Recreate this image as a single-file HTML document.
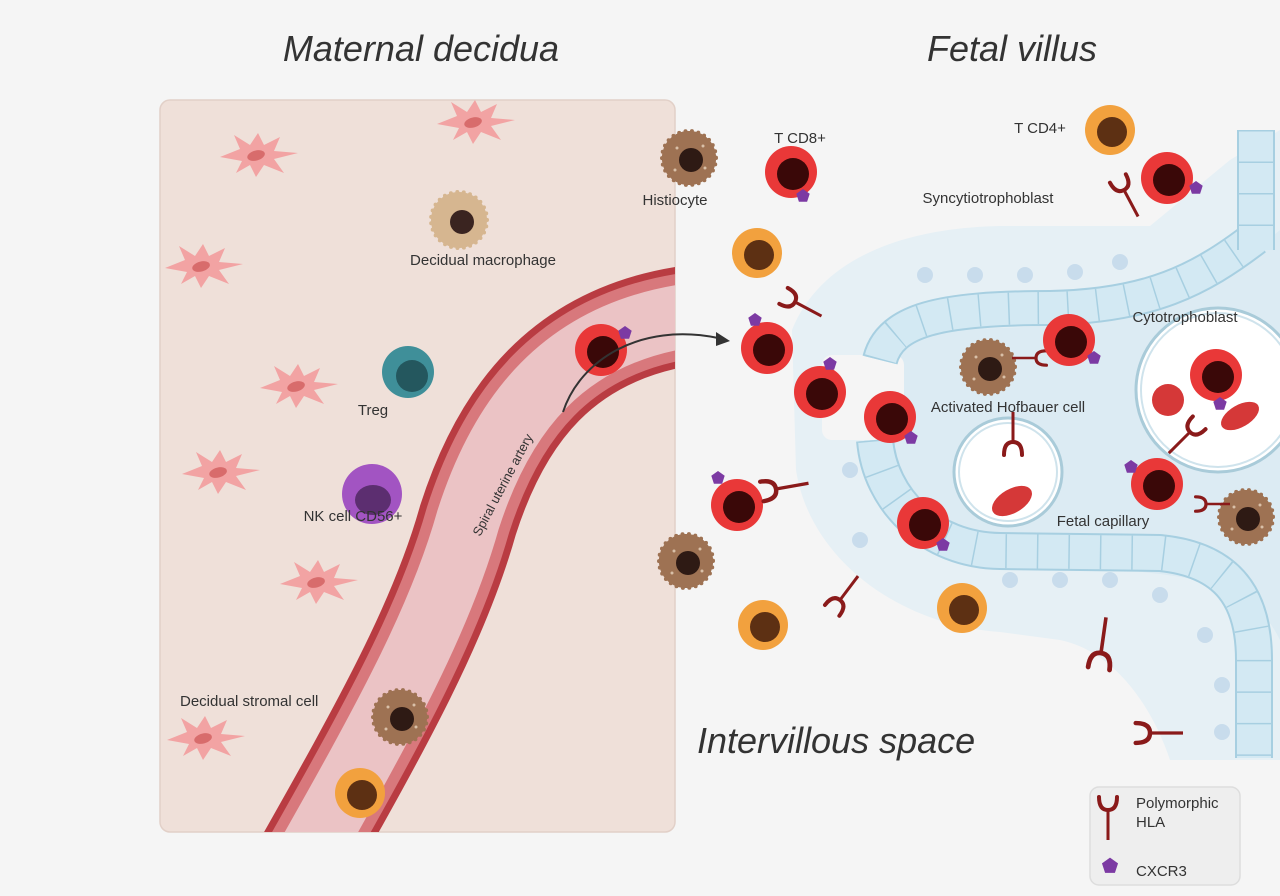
<!DOCTYPE html>
<html><head><meta charset="utf-8"><style>
html,body{margin:0;padding:0;background:#f5f5f5;}
svg{display:block;}
text{font-family:"Liberation Sans",Arial,sans-serif;fill:#333;}
.lb{font-size:15px;}
.tt{font-size:36px;font-style:italic;fill:#333;}
</style></head><body>
<svg width="1280" height="896" viewBox="0 0 1280 896" xmlns="http://www.w3.org/2000/svg">
<defs>
<clipPath id="box"><rect x="160" y="100" width="515" height="732" rx="10"/></clipPath>
<g id="star">
<polygon points="-38,2 -18,-6 -24,-20 -8,-10 0,-22 6,-10 22,-18 16,-4 40,-2 16,4 26,18 6,10 -2,22 -8,10 -22,18 -16,6" fill="#f2a3a3"/>
<ellipse cx="-2" cy="0" rx="9" ry="5" fill="#d86c6c" transform="rotate(-15)"/>
</g>
<g id="hla"><path d="M-9,-13 Q-9,0 0,0 Q9,0 9,-13" fill="none" stroke="#8a1a1a" stroke-width="4" stroke-linecap="round"/><line x1="0" y1="0" x2="0" y2="30" stroke="#8a1a1a" stroke-width="3"/></g>
<g id="tc"><circle r="26" fill="#e93838"/><circle cx="2" cy="2" r="16" fill="#3a0808"/></g>
<g id="oc"><circle r="25" fill="#f2a13e"/><circle cx="2" cy="2" r="15" fill="#5d3013"/></g>
<g id="mac"><circle r="27" fill="#9e7253" stroke="#9e7253" stroke-width="4" stroke-dasharray="0 6.5" stroke-linecap="round"/><circle r="27" fill="#9e7253"/><circle cx="-12" cy="-10" r="1.5" fill="#d9c0a8"/><circle cx="14" cy="-12" r="1.5" fill="#d9c0a8"/><circle cx="16" cy="10" r="1.5" fill="#d9c0a8"/><circle cx="-14" cy="12" r="1.5" fill="#d9c0a8"/><circle cx="2" cy="2" r="12" fill="#2e1a14"/></g>
<g id="pent"><polygon points="0,-7 6.7,-2.2 4.1,5.7 -4.1,5.7 -6.7,-2.2" fill="#7c3aa3"/></g>
</defs>

<text class="tt" x="421" y="61" text-anchor="middle">Maternal decidua</text>
<text class="tt" x="1012" y="61" text-anchor="middle">Fetal villus</text>

<!-- decidua box -->
<rect x="160" y="100" width="515" height="732" rx="10" fill="#efe0d9" stroke="#e2d0c8" stroke-width="1.5"/>
<g clip-path="url(#box)">
<path d="M300 870 C 385 720, 440 620, 468 520 C 500 420, 560 330, 700 314" fill="none" stroke="#b93c42" stroke-width="100"/>
<path d="M300 870 C 385 720, 440 620, 468 520 C 500 420, 560 330, 700 314" fill="none" stroke="#d8787c" stroke-width="86"/>
<path d="M300 870 C 385 720, 440 620, 468 520 C 500 420, 560 330, 700 314" fill="none" stroke="#ebc3c5" stroke-width="64"/>
</g>

<use href="#star" x="258" y="155"/>
<use href="#star" x="475" y="122"/>
<use href="#star" x="203" y="266"/>
<use href="#star" x="298" y="386"/>
<use href="#star" x="220" y="472"/>
<use href="#star" x="318" y="582"/>
<use href="#star" x="205" y="738"/>

<g transform="translate(459,220)"><circle r="28" fill="#d6b690" stroke="#d6b690" stroke-width="4" stroke-dasharray="0 6.5" stroke-linecap="round"/><circle cx="3" cy="2" r="12" fill="#3a2420"/></g>
<text class="lb" x="483" y="265" text-anchor="middle">Decidual macrophage</text>
<circle cx="408" cy="372" r="26" fill="#3f8f99"/><circle cx="412" cy="376" r="16" fill="#24575e"/>
<text class="lb" x="373" y="415" text-anchor="middle">Treg</text>
<circle cx="372" cy="494" r="30" fill="#a254c2"/><ellipse cx="373" cy="500" rx="18" ry="15" fill="#5c2e70"/>
<text class="lb" x="353" y="521" text-anchor="middle">NK cell CD56+</text>
<text class="lb" x="180" y="706">Decidual stromal cell</text>
<text class="lb" x="0" y="0" transform="translate(480,537) rotate(-62)" style="font-size:13px">Spiral uterine artery</text>
<use href="#mac" x="400" y="717"/>
<use href="#oc" x="360" y="793"/>
<use href="#tc" x="601" y="350"/><use href="#pent" x="625" y="333"/>

<!-- villus -->
<path d="M792 330 C 820 260, 900 228, 1000 226 L 1150 226 L 1230 160 L 1280 130 L 1280 760 L 1170 760 C 1150 700, 1110 650, 1060 640 L 1000 632 C 900 625, 810 560, 796 470 Z" fill="#e6f0f5"/>
<path d="M870 345 C 900 330, 950 330, 1050 326 C 1150 320, 1220 280, 1280 230 L 1280 640 C 1250 580, 1200 570, 1000 565 C 940 560, 880 500, 870 440 Z" fill="#dcebf3"/>
<rect x="822" y="355" width="82" height="85" rx="10" fill="#f5f5f5"/>
<g fill="none" stroke-linejoin="round">
<path d="M880 360 C 890 320, 940 308, 1050 308 C 1150 306, 1200 280, 1255 238" stroke="#a7cfe1" stroke-width="36"/>
<path d="M880 360 C 890 320, 940 308, 1050 308 C 1150 306, 1200 280, 1255 238" stroke="#d3e9f3" stroke-width="32"/>
<path d="M880 360 C 890 320, 940 308, 1050 308 C 1150 306, 1200 280, 1255 238" stroke="#a7cfe1" stroke-width="32" stroke-dasharray="1.5 28"/>
<path d="M875 440 C 880 500, 930 550, 1000 551 L 1160 553 C 1230 560, 1254 600, 1254 660 L 1254 758" stroke="#a7cfe1" stroke-width="38"/>
<path d="M875 440 C 880 500, 930 550, 1000 551 L 1160 553 C 1230 560, 1254 600, 1254 660 L 1254 758" stroke="#d3e9f3" stroke-width="34"/>
<path d="M875 440 C 880 500, 930 550, 1000 551 L 1160 553 C 1230 560, 1254 600, 1254 660 L 1254 758" stroke="#a7cfe1" stroke-width="34" stroke-dasharray="1.5 30"/>
<path d="M1256 130 L 1256 250" stroke="#a7cfe1" stroke-width="38"/>
<path d="M1256 130 L 1256 250" stroke="#d3e9f3" stroke-width="34"/>
<path d="M1256 130 L 1256 250" stroke="#a7cfe1" stroke-width="34" stroke-dasharray="1.5 30"/>
</g>
<g fill="#c8dcec">
<circle cx="925" cy="275" r="8"/><circle cx="975" cy="275" r="8"/><circle cx="1025" cy="275" r="8"/><circle cx="1075" cy="272" r="8"/><circle cx="1120" cy="262" r="8"/>
<circle cx="850" cy="470" r="8"/><circle cx="860" cy="540" r="8"/><circle cx="1010" cy="580" r="8"/><circle cx="1060" cy="580" r="8"/><circle cx="1110" cy="580" r="8"/><circle cx="1160" cy="595" r="8"/><circle cx="1205" cy="635" r="8"/><circle cx="1222" cy="685" r="8"/><circle cx="1222" cy="732" r="8"/>
</g>

<!-- capillaries -->
<circle cx="1008" cy="472" r="54" fill="#fff" stroke="#a9cbd9" stroke-width="3"/>
<circle cx="1008" cy="472" r="49" fill="none" stroke="#cfe3ec" stroke-width="2"/>
<ellipse cx="1012" cy="501" rx="22" ry="12" fill="#d53838" transform="rotate(-30 1012 501)"/>
<use href="#hla" transform="translate(1013,442) rotate(180)"/>
<circle cx="1218" cy="390" r="82" fill="#fff" stroke="#a9cbd9" stroke-width="3"/>
<circle cx="1218" cy="390" r="77" fill="none" stroke="#cfe3ec" stroke-width="2"/>
<circle cx="1168" cy="400" r="16" fill="#d53838"/>
<ellipse cx="1240" cy="416" rx="21" ry="11" fill="#d53838" transform="rotate(-30 1240 416)"/>
<use href="#tc" x="1216" y="375"/><use href="#pent" x="1220" y="404"/>
<use href="#hla" transform="translate(1190,432) rotate(45)"/>

<!-- arrow -->
<path d="M563 412 C 580 360, 640 322, 718 338" fill="none" stroke="#333" stroke-width="2"/>
<polygon points="730,341 716,332 716,346" fill="#333"/>

<!-- right cells -->
<use href="#mac" x="689" y="158"/>
<text class="lb" x="675" y="205" text-anchor="middle">Histiocyte</text>
<text class="lb" x="800" y="143" text-anchor="middle">T CD8+</text>
<use href="#tc" x="791" y="172"/><use href="#pent" x="803" y="196"/>
<text class="lb" x="1040" y="133" text-anchor="middle">T CD4+</text>
<use href="#oc" x="1110" y="130"/>
<use href="#tc" x="1167" y="178"/><use href="#pent" x="1196" y="188"/>
<use href="#hla" transform="translate(1124,190) rotate(-28)"/>
<text class="lb" x="988" y="203" text-anchor="middle">Syncytiotrophoblast</text>
<use href="#oc" x="757" y="253"/>
<use href="#hla" transform="translate(795,302) rotate(-62)"/>
<use href="#tc" x="767" y="348"/><use href="#pent" x="755" y="320"/>
<use href="#tc" x="820" y="392"/><use href="#pent" x="830" y="364"/>
<use href="#tc" x="890" y="417"/><use href="#pent" x="911" y="438"/>
<use href="#mac" x="988" y="367"/>
<use href="#hla" transform="translate(1036,358) rotate(90) scale(0.8)"/>
<use href="#tc" x="1069" y="340"/><use href="#pent" x="1094" y="358"/>
<text class="lb" x="1185" y="322" text-anchor="middle">Cytotrophoblast</text>
<text class="lb" x="1008" y="412" text-anchor="middle">Activated Hofbauer cell</text>
<use href="#tc" x="1157" y="484"/><use href="#pent" x="1131" y="467"/>
<use href="#mac" x="1246" y="517"/>
<use href="#hla" transform="translate(1206,504) rotate(-90) scale(0.8)"/>
<text class="lb" x="1103" y="526" text-anchor="middle">Fetal capillary</text>
<use href="#tc" x="737" y="505"/><use href="#pent" x="718" y="478"/>
<use href="#hla" transform="translate(776,489) rotate(-100) scale(1.1)"/>
<use href="#tc" x="923" y="523"/><use href="#pent" x="943" y="545"/>
<use href="#mac" x="686" y="561"/>
<use href="#hla" transform="translate(840,600) rotate(-143)"/>
<use href="#oc" x="763" y="625"/>
<use href="#oc" x="962" y="608"/>
<use href="#hla" transform="translate(1101,653) rotate(-172) scale(1.2)"/>
<use href="#hla" transform="translate(1150,733) rotate(-90) scale(1.1)"/>

<text class="tt" x="697" y="753">Intervillous space</text>

<!-- legend -->
<rect x="1090" y="787" width="150" height="98" rx="9" fill="#eeeeee" stroke="#dddddd" stroke-width="1.5"/>
<use href="#hla" transform="translate(1108,810)"/>
<text class="lb" x="1136" y="808">Polymorphic</text>
<text class="lb" x="1136" y="827">HLA</text>
<g transform="translate(1110,866) scale(1.2)"><polygon points="0,-7 6.7,-2.2 4.1,5.7 -4.1,5.7 -6.7,-2.2" fill="#7c3aa3"/></g>
<text class="lb" x="1136" y="876">CXCR3</text>
</svg>
</body></html>
